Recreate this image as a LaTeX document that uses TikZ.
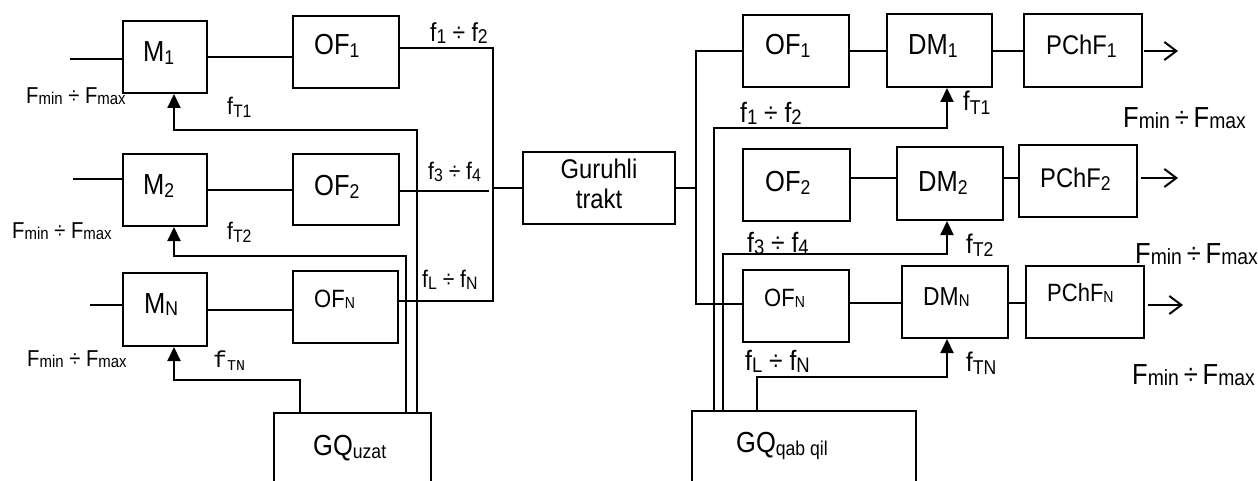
\documentclass[tikz,border=0pt]{standalone}
\usepackage{fontspec}
\setmainfont{Liberation Sans}[FakeStretch=0.88]
\newfontfamily\monofam{Liberation Mono}
\usetikzlibrary{arrows.meta,fit,calc}

% font size helper and lowered subscript
\newcommand\fs[1]{\fontsize{#1}{#1}\selectfont}
\newcommand\sbx[3]{\raisebox{-#2pt}{\fs{#1}#3}}

\begin{document}
\begin{tikzpicture}[x=1pt,y=-1pt,
  blk/.style={draw,line width=2pt,inner sep=0pt},
  lbl/.style={inner sep=0pt,anchor=base west},
  ln/.style={line width=2pt},
  fb/.style={line width=2pt,-{Triangle[length=14pt,width=13pt]}},
  outarr/.style={line width=2pt,-{Straight Barb[length=12pt,width=18pt]}}]
\useasboundingbox (0,0) rectangle (1258,481);

% ---------- transmitting side ----------
\node[blk,fit={(123,21) (207,93)}]   (m1) {};
\node[blk,fit={(123,154) (207,226)}] (m2) {};
\node[blk,fit={(123,273) (207,346)}] (mN) {};
\node[blk,fit={(293,16) (399,88)}]   (of1) {};
\node[blk,fit={(293,154) (399,225)}] (of2) {};
\node[blk,fit={(293,271) (398,343)}] (ofN) {};
\node[blk,fit={(274,413) (431,560)}] (gqu) {};
\node[blk,fit={(523,152) (675,224)}] (gt) {};
\node[inner sep=0pt,anchor=north,align=center,font={\fs{27}\baselineskip=30pt}] (gtt) at (599,159) {Guruhli\\trakt};

\node[lbl,font={\fs{29}}] (m1t) at (143,62)  {M\sbx{20}{3}{1}};
\node[lbl,font={\fs{29}}] (m2t) at (143,195) {M\sbx{20}{3}{2}};
\node[lbl,font={\fs{29}}] (mNt) at (144,313) {M\sbx{20}{2}{N}};
\node[lbl,font={\fs{29}}] (of1t) at (314,55)  {OF\sbx{20}{3}{1}};
\node[lbl,font={\fs{29}}] (of2t) at (314,196) {OF\sbx{20}{3}{2}};
\node[lbl,font={\fs{25}}] (ofNt) at (314,307) {OF\sbx{16}{1}{N}};
\node[lbl,font={\fs{29}}] (gqut) at (313,455) {GQ\sbx{20}{3}{uzat}};

% inputs of the modulators
\coordinate (in1) at (70,59);
\coordinate (in2) at (73,179);
\coordinate (inN) at (90,305);
\draw[ln] (in1) -- (in1 -| m1.west);
\draw[ln] (in2) -- (in2 -| m2.west);
\draw[ln] (inN) -- (inN -| mN.west);

% modulators to filters
\draw[ln] (m1.east) -- (m1.east -| of1.west);
\draw[ln] (m2.east) -- (m2.east -| of2.west);
\draw[ln] (mN.east) -- (mN.east -| ofN.west);

% filters to the group bus
\coordinate (bt) at (493,48);
\coordinate (bb) at (493,301);
\draw[ln] ([yshift=4pt]of1.east) -- (bt) -- (bb) -- (bb -| ofN.east);
\coordinate (b2) at (489,191);
\draw[ln] (b2 -| of2.east) -- (b2);
\draw[ln] (bt |- gt.west) -- (gt.west);

% carrier feedback from the generator
\draw[fb] ([xshift=64.5pt]gqu.north) |- ([xshift=9pt,yshift=-36pt]m1.south) -- ([xshift=9pt]m1.south);
\draw[fb] ([xshift=53.5pt]gqu.north) |- ([xshift=9pt,yshift=-29pt]m2.south) -- ([xshift=9pt]m2.south);
\draw[fb] ([xshift=-52.5pt]gqu.north) |- ([xshift=9pt,yshift=-33pt]mN.south) -- ([xshift=9pt]mN.south);

% labels, transmitting side
\node[lbl,font={\fs{23}}] (fa1) at (26,104)  {F\sbx{17}{1}{min} ÷ F\sbx{17}{1}{max}};
\node[lbl,font={\fs{23}}] (fa2) at (12,239)  {F\sbx{17}{1}{min} ÷ F\sbx{17}{1}{max}};
\node[lbl,font={\fs{23}}] (fa3) at (27,366)  {F\sbx{17}{1}{min} ÷ F\sbx{17}{1}{max}};
\node[lbl,font={\fs{24}}] (ft1) at (227,115) {f\sbx{18}{3}{T1}};
\node[lbl,font={\fs{24}}] (ft2) at (227,240) {f\sbx{18}{3}{T2}};
\node[lbl,font={\monofam\fs{23}}] (ftN) at (213,367) {f\sbx{15}{3}{TN}};
\node[lbl,font={\fs{26}}] (fb12) at (430,42)  {f\sbx{20}{2}{1} ÷ f\sbx{20}{2}{2}};
\node[lbl,font={\fs{24}}] (fb34) at (428,180) {f\sbx{18}{2}{3} ÷ f\sbx{18}{2}{4}};
\node[lbl,font={\fs{24}}] (fbLN) at (422,287) {f\sbx{18}{2}{L} ÷ f\sbx{18}{2}{N}};

% ---------- receiving side ----------
\node[blk,fit={(743,15) (849,87)}]    (of1r) {};
\node[blk,fit={(743,149) (850,221)}]  (of2r) {};
\node[blk,fit={(743,270) (849,342)}]  (ofNr) {};
\node[blk,fit={(887,14) (992,87)}]    (dm1) {};
\node[blk,fit={(897,147) (1003,220)}] (dm2) {};
\node[blk,fit={(902,266) (1008,338)}] (dmN) {};
\node[blk,fit={(1024,14) (1142,87)}]  (p1) {};
\node[blk,fit={(1019,145) (1137,217)}] (p2) {};
\node[blk,fit={(1026,266) (1144,338)}] (pN) {};
\node[blk,fit={(692,411) (916,560)}]  (gqr) {};

\node[lbl,font={\fs{29}}] (of1rt) at (765,55)  {OF\sbx{20}{3}{1}};
\node[lbl,font={\fs{29}}] (of2rt) at (765,192) {OF\sbx{20}{3}{2}};
\node[lbl,font={\fs{25}}] (ofNrt) at (764,306) {OF\sbx{16}{1}{N}};
\node[lbl,font={\fs{29}}] (dm1t) at (908,55)  {DM\sbx{20}{3}{1}};
\node[lbl,font={\fs{29}}] (dm2t) at (918,192) {DM\sbx{20}{3}{2}};
\node[lbl,font={\fs{26}}] (dmNt) at (923,305) {DM\sbx{17}{1}{N}};
\node[lbl,font={\fs{27}}] (p1t) at (1046,55)  {PChF\sbx{20}{3}{1}};
\node[lbl,font={\fs{27}}] (p2t) at (1040,188) {PChF\sbx{20}{3}{2}};
\node[lbl,font={\fs{25}}] (pNt) at (1047,301) {PChF\sbx{16}{1}{N}};
\node[lbl,font={\fs{29}}] (gqrt) at (736,452) {GQ\sbx{20}{3}{qab qil}};

% group bus to the channel filters
\coordinate (rbb) at (696,304);
\draw[ln] (gt.east) -- (gt.east -| rbb);
\draw[ln] (of1r.west) -| (rbb) -- (rbb -| ofNr.west);

% channel chains
\coordinate (r1) at (0,51);
\coordinate (r2) at (0,178);
\coordinate (rN) at (0,303);
\draw[ln] (of1r.east |- r1) -- (dm1.west |- r1);
\draw[ln] (dm1.east |- r1) -- (p1.west |- r1);
\draw[ln] (of2r.east |- r2) -- (dm2.west |- r2);
\draw[ln] (dm2.east |- r2) -- (p2.west |- r2);
\draw[ln] (ofNr.east |- rN) -- (dmN.west |- rN);
\draw[ln] (dmN.east |- rN) -- (pN.west |- rN);

% outputs
\coordinate (o1) at (1178,51);
\coordinate (o2) at (1178,178);
\coordinate (oN) at (1183,305);
\draw[outarr] ([xshift=1pt]p1.east |- o1) -- (o1);
\draw[outarr] ([xshift=3pt]p2.east |- o2) -- (o2);
\draw[outarr] ([xshift=3pt]pN.east |- oN) -- (oN);

% carrier feedback from the receiving generator
\draw[fb] ([xshift=-90pt]gqr.north) |- ([xshift=7.5pt,yshift=-40pt]dm1.south) -- ([xshift=7.5pt]dm1.south);
\draw[fb] ([xshift=-81pt]gqr.north) |- ([xshift=-3pt,yshift=-33pt]dm2.south) -- ([xshift=-3pt]dm2.south);
\draw[fb] ([xshift=-47pt]gqr.north) |- ([xshift=-8pt,yshift=-38pt]dmN.south) -- ([xshift=-8pt]dmN.south);

% labels, receiving side
\node[lbl,font={\fs{28}}] (fr12) at (740,123) {f\sbx{21}{2}{1} ÷ f\sbx{21}{2}{2}};
\node[lbl,font={\fs{28}}] (fr34) at (747,252) {f\sbx{21}{2}{3} ÷ f\sbx{21}{2}{4}};
\node[lbl,font={\fs{28}}] (frLN) at (745,370) {f\sbx{21}{2}{L} ÷ f\sbx{21}{2}{N}};
\node[lbl,font={\fs{27}}] (frt1) at (963,111) {f\sbx{20}{4}{T1}};
\node[lbl,font={\fs{27}}] (frt2) at (966,253) {f\sbx{20}{3}{T2}};
\node[lbl,font={\fs{27}}] (frtN) at (966,371) {f\sbx{20}{3}{TN}};
\node[lbl,font={\fs{29}}] (fo1) at (1123,128) {F\sbx{22}{1}{min}\,÷\,F\sbx{22}{1}{max}};
\node[lbl,font={\fs{29}}] (fo2) at (1135,263) {F\sbx{22}{1}{min}\,÷\,F\sbx{22}{1}{max}};
\node[lbl,font={\fs{29}}] (fo3) at (1132,384) {F\sbx{22}{1}{min}\,÷\,F\sbx{22}{1}{max}};
\end{tikzpicture}
\end{document}
